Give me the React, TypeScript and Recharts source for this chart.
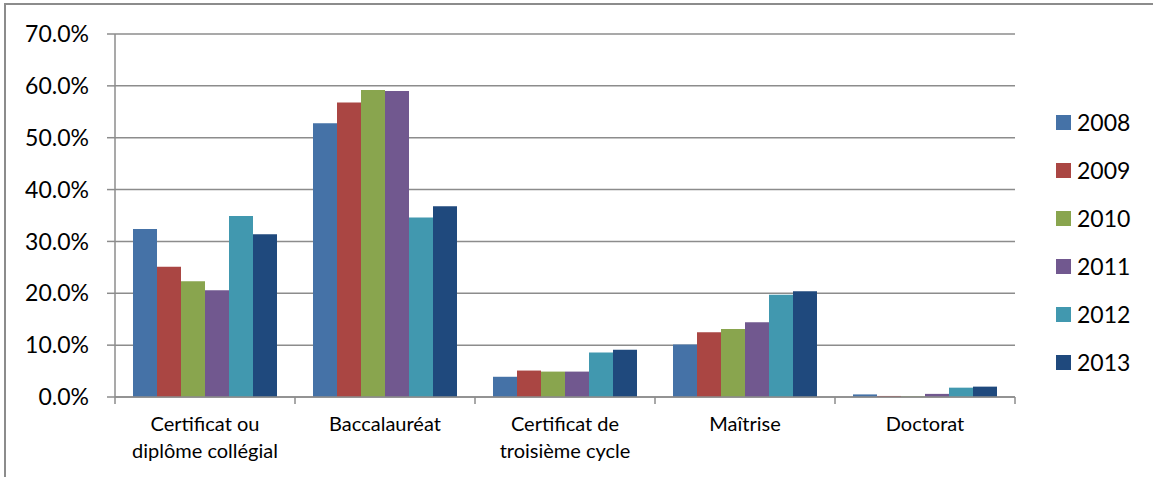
import { BarChart, Bar, XAxis, YAxis, CartesianGrid } from 'recharts';

const categories = [
  'Certificat ou\ndiplôme collégial',
  'Baccalauréat',
  'Certificat de\ntroisième cycle',
  'Maîtrise',
  'Doctorat',
];

const years = ['2008', '2009', '2010', '2011', '2012', '2013'];

const v2008 = [32.4, 52.8, 3.9, 10.1, 0.5];
const v2009 = [25.1, 56.8, 5.1, 12.5, 0.2];
const v2010 = [22.3, 59.2, 4.9, 13.1, 0.1];
const v2011 = [20.6, 59.0, 4.9, 14.4, 0.6];
const v2012 = [34.9, 34.6, 8.6, 19.7, 1.8];
const v2013 = [31.4, 36.8, 9.1, 20.4, 2.0];

const yTicks = [0, 10, 20, 30, 40, 50, 60, 70];

const colors = ['#4572A7', '#AA4643', '#89A54E', '#71588F', '#4198AF', '#1F497D'];

const series = [v2008, v2009, v2010, v2011, v2012, v2013];

const data = categories.map((name, i) => {
  const row: Record<string, string | number> = { name };
  years.forEach((y, s) => {
    row[y] = series[s][i];
  });
  return row;
});

const W = 1153;
const H = 477;
const LEFT = 115;
const RIGHT = 138;
const band = (W - LEFT - RIGHT) / categories.length;
const font = 'Lato, "Liberation Sans", Arial, sans-serif';
const gridColor = '#8c8c8c';

const CategoryTick = (props: any) => {
  const { x, y, payload, index } = props;
  const lines = String(payload.value).split('\n');
  return (
    <g>
      <line x1={x - band / 2} y1={y} x2={x - band / 2} y2={y + 7} stroke={gridColor} strokeWidth={1.5} />
      {index === categories.length - 1 && (
        <line x1={x + band / 2} y1={y} x2={x + band / 2} y2={y + 7} stroke={gridColor} strokeWidth={1.5} />
      )}
      {lines.map((l, i) => (
        <text key={i} x={x} y={y + 34 + i * 27} textAnchor="middle" fill="#000" fontSize={20} fontFamily={font}>
          {l}
        </text>
      ))}
    </g>
  );
};

const LegendBox = () => (
  <div style={{ position: 'absolute', left: 1056, top: 98, fontFamily: font, fontSize: 23, color: '#000' }}>
    {years.map((y, i) => (
      <div key={y} style={{ display: 'flex', alignItems: 'center', height: 48 }}>
        <span style={{ width: 15, height: 15, background: colors[i], marginRight: 6, display: 'inline-block' }} />
        <span>{y}</span>
      </div>
    ))}
  </div>
);

export default function App() {
  return (
    <div style={{ position: 'fixed', left: 0, top: 0, width: W, height: H, background: '#fff' }}>
      <div style={{ position: 'absolute', left: 0, top: 0 }}>
        <BarChart
          width={W}
          height={H}
          data={data}
          margin={{ top: 34, right: RIGHT, left: 0, bottom: 10 }}
          barCategoryGap={18}
          barGap={0}
        >
          <CartesianGrid vertical={false} stroke={gridColor} strokeWidth={1.5} />
          <XAxis
            dataKey="name"
            height={70}
            interval={0}
            tickLine={false}
            tickSize={0}
            tickMargin={0}
            axisLine={{ stroke: gridColor, strokeWidth: 1.5 }}
            tick={<CategoryTick />}
          />
          <YAxis
            width={LEFT}
            domain={[0, 70]}
            ticks={yTicks}
            interval={0}
            tickSize={8}
            tickMargin={18}
            tickLine={{ stroke: gridColor, strokeWidth: 1.5 }}
            axisLine={{ stroke: gridColor, strokeWidth: 1.5 }}
            tick={{ fill: '#000', fontSize: 23, fontFamily: font }}
            tickFormatter={(v: number) => `${v.toFixed(1)}%`}
          />
          {years.map((y, i) => (
            <Bar key={y} dataKey={y} fill={colors[i]} isAnimationActive={false} />
          ))}
        </BarChart>
      </div>
      <LegendBox />
      <div
        style={{
          position: 'absolute',
          left: 4,
          top: 3,
          right: 0,
          bottom: 0,
          borderTop: `2px solid ${gridColor}`,
          borderLeft: `2px solid ${gridColor}`,
          zIndex: 5,
          pointerEvents: 'none',
        }}
      />
    </div>
  );
}
